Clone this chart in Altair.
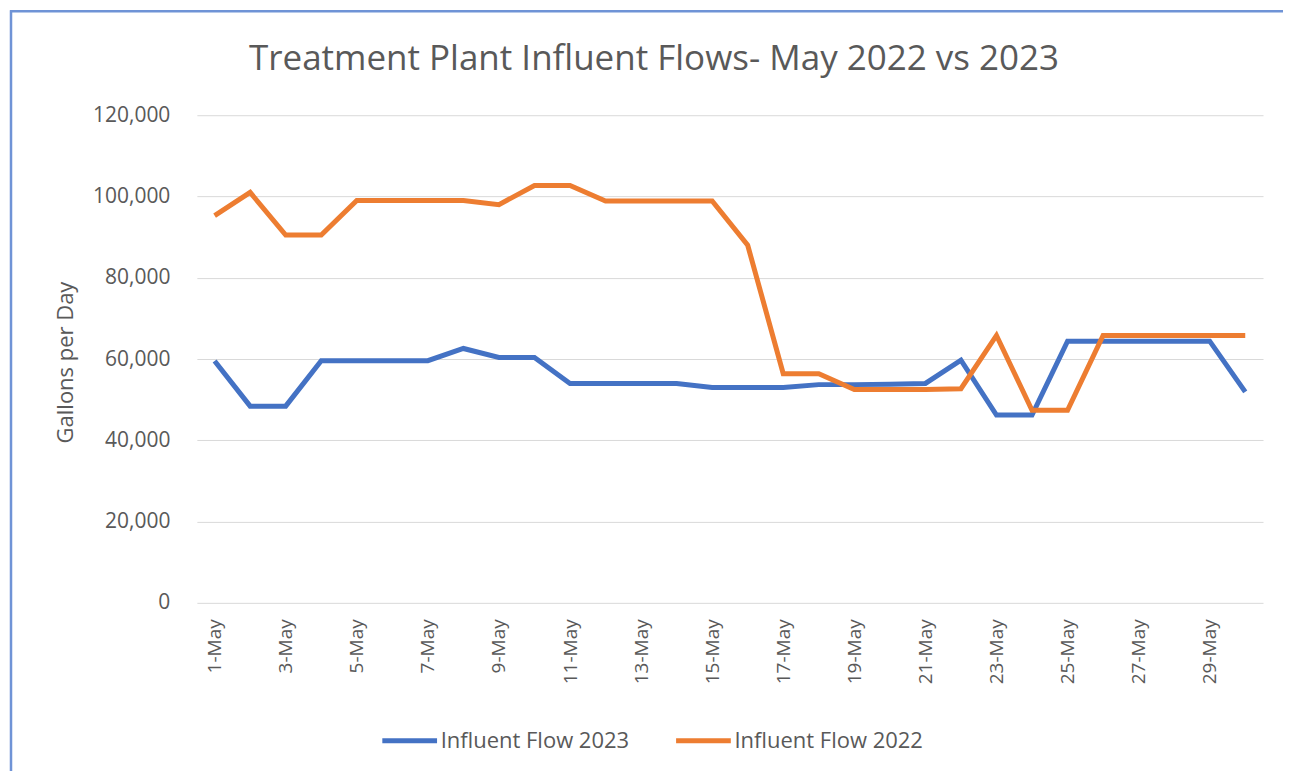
import altair as alt
import pandas as pd

days = [f"{d}-May" for d in range(1, 31)]
flow_2023 = [59500, 48400, 48400, 59600, 59600, 59600, 59600, 62600, 60400, 60400,
             54000, 54000, 54000, 54000, 53000, 53000, 53000, 53700, 53700, 53800,
             54000, 59700, 46200, 46200, 64400, 64400, 64400, 64400, 64400, 51900]
flow_2022 = [95300, 101000, 90500, 90500, 99000, 99000, 99000, 99000, 98000, 102700,
             102700, 98900, 98900, 98900, 98900, 88000, 56400, 56400, 52500, 52500,
             52500, 52700, 65800, 47400, 47400, 65800, 65800, 65800, 65800, 65800]
series = ["Influent Flow 2023", "Influent Flow 2022"]
colors = ["#4472C4", "#ED7D31"]
y_ticks = [0, 20000, 40000, 60000, 80000, 100000, 120000]

df = pd.concat([
    pd.DataFrame({"day": days, "flow": flow_2023, "series": series[0]}),
    pd.DataFrame({"day": days, "flow": flow_2022, "series": series[1]}),
])

FONT = "Open Sans"
TXT = "#595959"

x_enc = alt.X("day:O", sort=days, scale=alt.Scale(padding=0.5),
              axis=alt.Axis(values=days[::2], labelAngle=270, labelFontSize=19,
                            labelColor=TXT, labelFont=FONT, labelPadding=16,
                            ticks=False, domain=False, grid=False, title=None))
y_enc = alt.Y("flow:Q", scale=alt.Scale(domain=[0, 120000], nice=False),
              axis=alt.Axis(values=y_ticks, format=",.0f", labelFontSize=21,
                            labelColor=TXT, labelFont=FONT, labelPadding=27,
                            ticks=False, domain=False, gridColor="#d9d9d9",
                            title="Gallons per Day", titleFontSize=22,
                            titleFontWeight="normal", titleColor=TXT, titleFont=FONT,
                            titleX=-131, titleY=247, titleAngle=270,
                            titleBaseline="middle", titleAlign="center"))
color_enc = alt.Color("series:N", scale=alt.Scale(domain=series, range=colors),
                      legend=alt.Legend(title=None, orient="none", legendX=183, legendY=596,
                                        direction="horizontal", symbolType="stroke",
                                        symbolSize=3000, symbolStrokeWidth=5,
                                        labelFontSize=22, labelColor=TXT, labelFont=FONT,
                                        labelOffset=1, columnPadding=36, labelLimit=0))

base = alt.Chart(df)
line23 = base.transform_filter(alt.datum.series == series[0]).mark_line(strokeWidth=5).encode(
    x=x_enc, y=y_enc, color=color_enc)
line22 = base.transform_filter(alt.datum.series == series[1]).mark_line(strokeWidth=5).encode(
    x=x_enc, y=y_enc, color=color_enc)

frame_df = pd.DataFrame({"edge": ["top", "left"]})
frame_top = alt.Chart(frame_df).transform_filter(alt.datum.edge == "top").mark_rule(
    color="#6f93d6", strokeWidth=2.5).encode(
    x=alt.value(-187), x2=alt.value(1100), y=alt.value(-104))
frame_left = alt.Chart(frame_df).transform_filter(alt.datum.edge == "left").mark_rule(
    color="#6f93d6", strokeWidth=2.5).encode(
    x=alt.value(-186), y=alt.value(-105), y2=alt.value(670))

chart = alt.layer(line23, line22, frame_top, frame_left).properties(
    width=1067, height=488,
    background="white",
    title=alt.TitleParams("Treatment Plant Influent Flows- May 2022 vs 2023",
                          font=FONT, fontSize=35, fontWeight="normal", color=TXT,
                          anchor="middle", frame="group", dx=-76, dy=98, offset=30),
    autosize=alt.AutoSizeParams(type="none"),
    padding={"left": 189, "top": 107, "right": 20, "bottom": 168},
).configure_view(strokeWidth=0, stroke="transparent")

chart.save("out.html", embed_options={"renderer": "svg", "actions": False})
